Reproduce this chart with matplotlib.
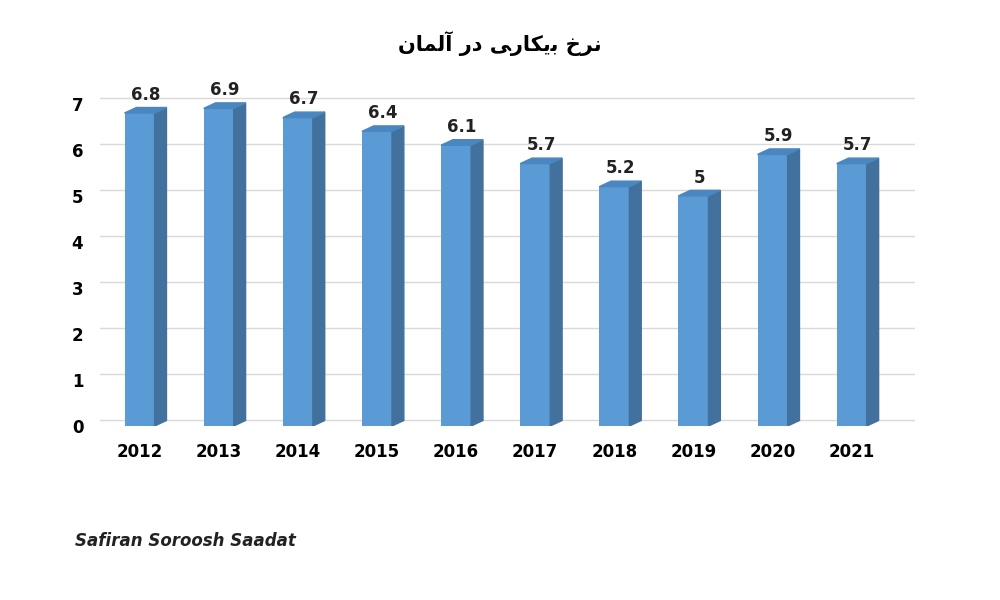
import matplotlib
matplotlib.use("Agg")
import matplotlib.pyplot as plt
from matplotlib.patches import Polygon

years = ["2012","2013","2014","2015","2016","2017","2018","2019","2020","2021"]
rates = [6.8, 6.9, 6.7, 6.4, 6.1, 5.7, 5.2, 5.0, 5.9, 5.7]
yticks = [0,1,2,3,4,5,6,7]

# Persian title "نرخ بیکاری در آلمان" in shaped presentation forms, visual order
logical = ["\uFEE7\uFEAE\uFEA5", "\uFE91\uFBFE\uFB91\uFE8E\uFEAD\uFBFD", "\uFEA9\uFEAD", "\uFE81\uFEDF\uFEE4\uFE8E\uFEE5"]
title = " ".join(logical)[::-1]

fig = plt.figure(figsize=(10, 6), dpi=100)
ax = fig.add_axes([0.10, 0.29, 0.815, 0.56])
front = "#5b9bd5"
side = "#41719c"
top = "#4a86bf"
w = 0.38
dx, dy = 0.15, 0.12
for i, v in enumerate(rates):
    ax.bar(i, v, width=w, color=front, zorder=3)
    x1 = i + w/2
    ax.add_patch(Polygon([(x1, 0), (x1+dx, dy), (x1+dx, v+dy), (x1, v)], closed=True, color=side, zorder=3))
    x0 = i - w/2
    ax.add_patch(Polygon([(x0, v), (x0+dx, v+dy), (x1+dx, v+dy), (x1, v)], closed=True, color=top, zorder=3))
    ax.text(i + dx/2, v + dy + 0.08, f"{v:g}", ha="center", va="bottom",
            fontsize=12, fontweight="bold", color="#222222")

ax.set_xlim(-0.5, 9.8)
ax.set_ylim(0, 7.3)
ax.set_yticks(yticks)
ax.set_yticklabels([str(t) for t in yticks], fontsize=12, fontweight="bold")
ax.set_xticks(range(len(years)))
ax.set_xticklabels(years, fontsize=12, fontweight="bold")
ax.tick_params(length=0, pad=12)
for t in yticks:
    ax.axhline(t + dy, color="#d9d9d9", lw=1, zorder=1)
for s in ax.spines.values():
    s.set_visible(False)

fig.text(0.5, 0.915, title, ha="center", fontsize=15, fontweight="bold", family="DejaVu Sans")
fig.text(0.075, 0.09, "Safiran Soroosh Saadat", fontsize=12, fontweight="bold", style="italic", color="#222222")
fig.savefig("out.png", dpi=100)
